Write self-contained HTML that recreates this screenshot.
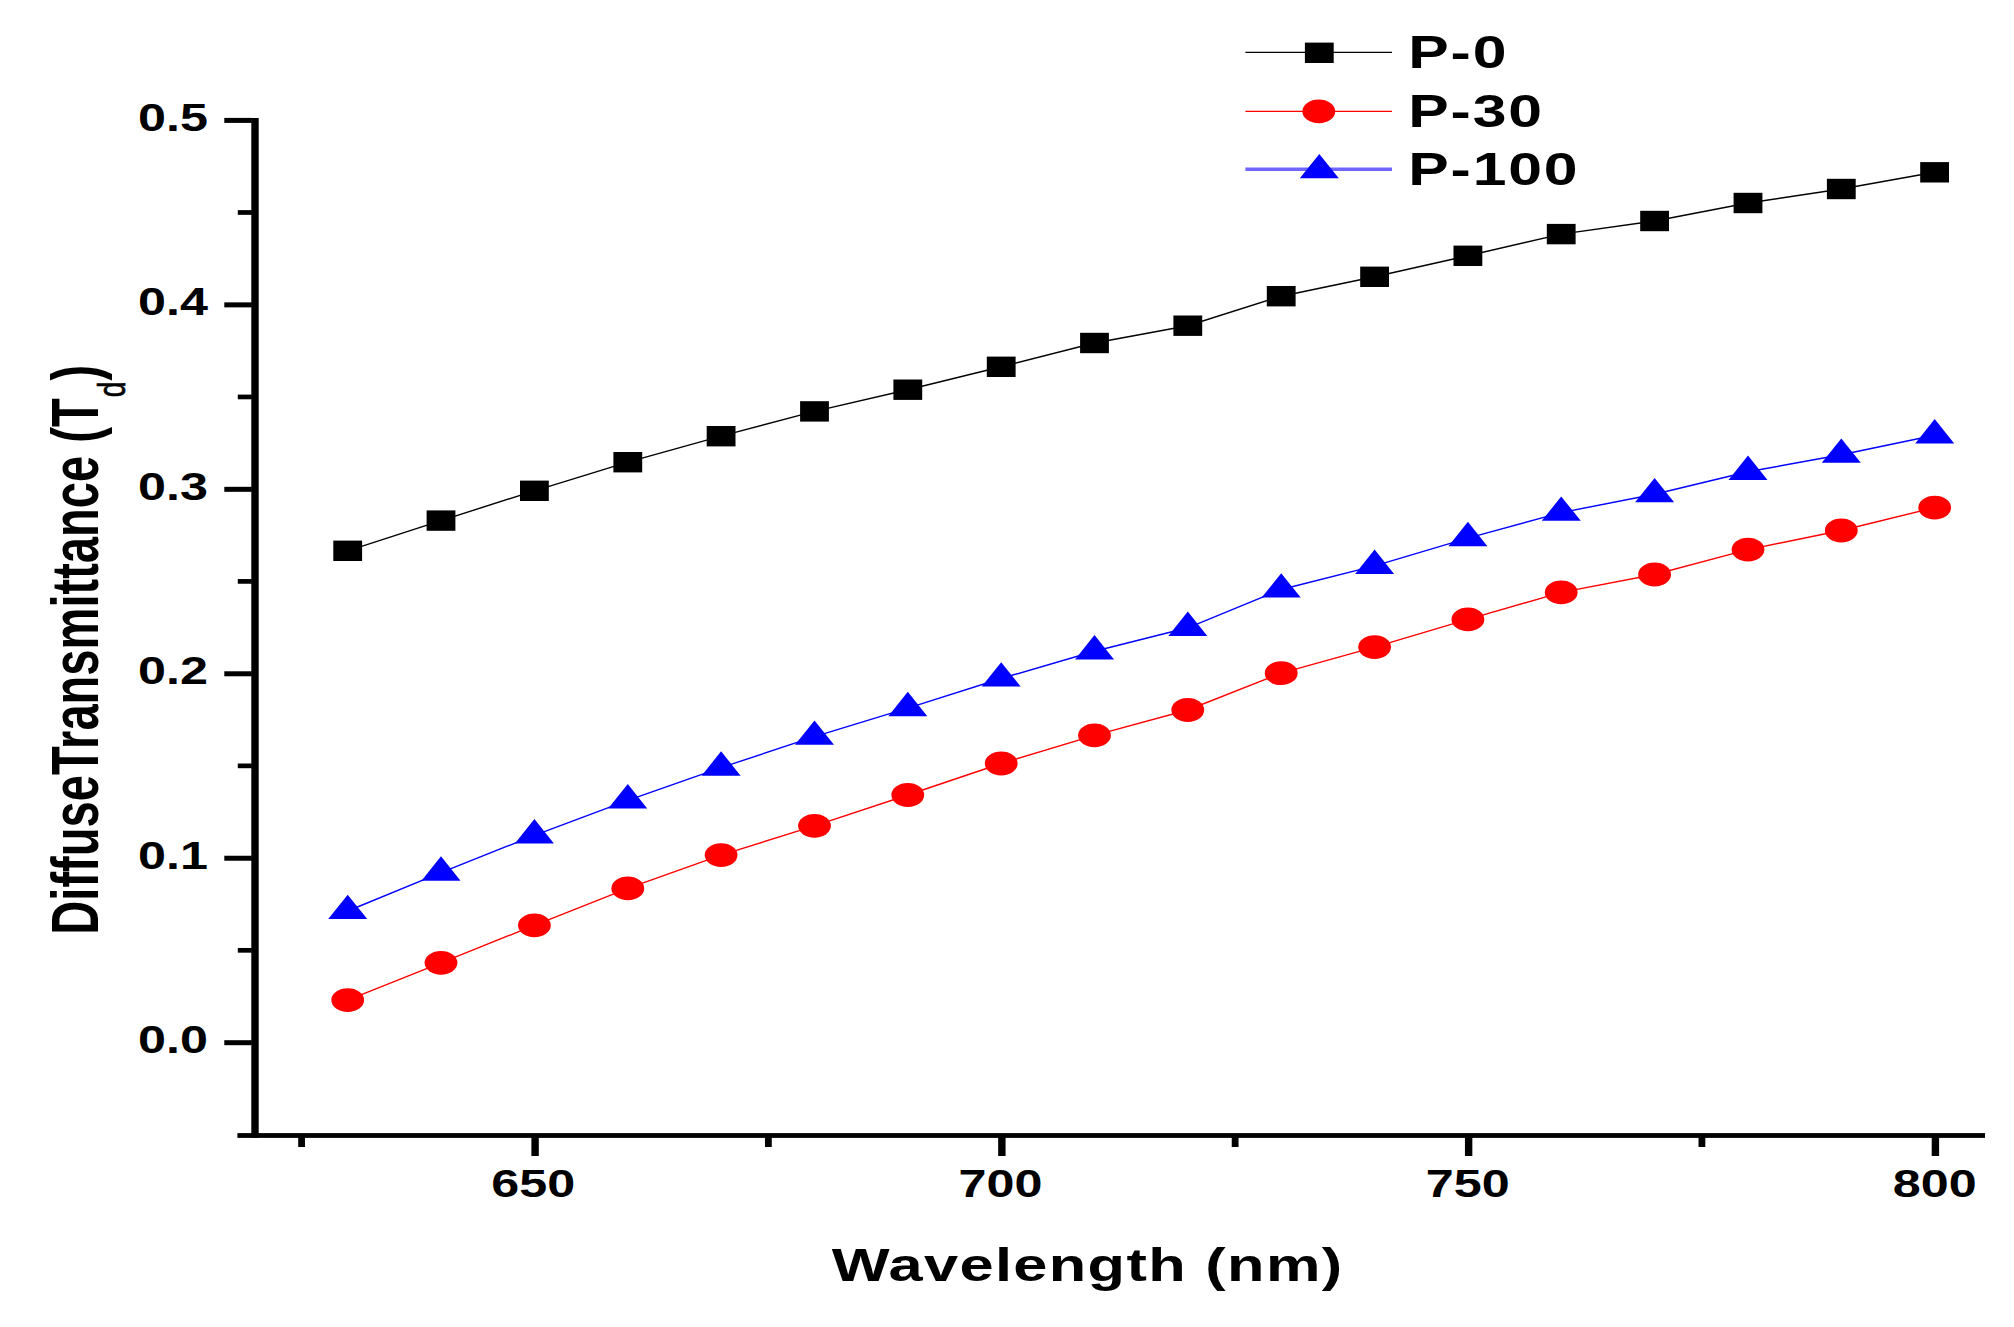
<!DOCTYPE html>
<html lang="en"><head><meta charset="utf-8"><title>Diffuse Transmittance vs Wavelength</title>
<style>html,body{margin:0;padding:0;background:#fff}svg{display:block}text{font-family:"Liberation Sans",sans-serif;font-weight:bold;fill:#000}</style></head><body>
<svg width="2014" height="1327" viewBox="0 0 2014 1327">
<rect width="2014" height="1327" fill="#fff"/>
<g fill="#000">
<rect x="251.3" y="118" width="7.4" height="1019.6"/>
<rect x="237.4" y="1133.1" width="1747.6" height="4.8"/>
<rect x="224.3" y="117.90" width="27.5" height="5.0"/>
<rect x="224.3" y="302.36" width="27.5" height="5.0"/>
<rect x="224.3" y="486.82" width="27.5" height="5.0"/>
<rect x="224.3" y="671.28" width="27.5" height="5.0"/>
<rect x="224.3" y="855.74" width="27.5" height="5.0"/>
<rect x="224.3" y="1040.20" width="27.5" height="5.0"/>
<rect x="237.8" y="210.13" width="14" height="4.7"/>
<rect x="237.8" y="394.59" width="14" height="4.7"/>
<rect x="237.8" y="579.05" width="14" height="4.7"/>
<rect x="237.8" y="763.51" width="14" height="4.7"/>
<rect x="237.8" y="947.97" width="14" height="4.7"/>
<rect x="531.40" y="1136" width="7.4" height="20"/>
<rect x="998.17" y="1136" width="7.4" height="20"/>
<rect x="1464.94" y="1136" width="7.4" height="20"/>
<rect x="1931.71" y="1136" width="7.4" height="20"/>
<rect x="298.20" y="1136" width="6.8" height="11"/>
<rect x="764.97" y="1136" width="6.8" height="11"/>
<rect x="1231.74" y="1136" width="6.8" height="11"/>
<rect x="1698.51" y="1136" width="6.8" height="11"/>
</g>
<text transform="translate(533.30 1197.10) scale(1.3 1)" font-size="38.7" text-anchor="middle">650</text>
<text transform="translate(1000.48 1197.10) scale(1.3 1)" font-size="38.7" text-anchor="middle">700</text>
<text transform="translate(1467.66 1197.10) scale(1.3 1)" font-size="38.7" text-anchor="middle">750</text>
<text transform="translate(1934.84 1197.10) scale(1.3 1)" font-size="38.7" text-anchor="middle">800</text>
<text transform="translate(173.00 130.90) scale(1.3 1)" font-size="38.7" text-anchor="middle">0.5</text>
<text transform="translate(173.00 315.36) scale(1.3 1)" font-size="38.7" text-anchor="middle">0.4</text>
<text transform="translate(173.00 499.82) scale(1.3 1)" font-size="38.7" text-anchor="middle">0.3</text>
<text transform="translate(173.00 684.28) scale(1.3 1)" font-size="38.7" text-anchor="middle">0.2</text>
<text transform="translate(173.00 868.74) scale(1.3 1)" font-size="38.7" text-anchor="middle">0.1</text>
<text transform="translate(173.00 1053.20) scale(1.3 1)" font-size="38.7" text-anchor="middle">0.0</text>
<text transform="translate(1087.60 1281.30) scale(1.305 1)" font-size="47" text-anchor="middle" letter-spacing="1.03">Wavelength (nm)</text>
<text transform="translate(98.2 649.8) rotate(-90) scale(1 1.4)" font-size="47.1" text-anchor="middle">DiffuseTransmittance (T<tspan font-size="28.3" dy="18.9" dx="1" font-weight="normal" stroke="#000" stroke-width="0.5">d</tspan><tspan dy="-18.9" dx="1">)</tspan></text>
<polyline points="347.7,550.8 441.0,520.6 534.4,490.8 627.8,462.2 721.1,436.2 814.5,411.4 907.8,389.7 1001.2,366.8 1094.5,343.0 1187.8,325.7 1281.2,296.2 1374.6,276.8 1467.9,255.8 1561.2,234.1 1654.6,221.0 1748.0,203.0 1841.3,189.0 1934.7,172.3" fill="none" stroke="#000" stroke-width="1.4"/>
<polyline points="347.7,1000.1 441.0,962.8 534.4,925.3 627.8,888.4 721.1,855.1 814.5,825.8 907.8,795.0 1001.2,763.5 1094.5,735.3 1187.8,710.0 1281.2,673.2 1374.6,647.1 1467.9,619.4 1561.2,592.4 1654.6,574.5 1748.0,549.6 1841.3,530.5 1934.7,507.6" fill="none" stroke="#f00" stroke-width="1.4"/>
<polyline points="347.7,911.0 441.0,872.6 534.4,835.4 627.8,800.4 721.1,767.6 814.5,736.7 907.8,708.1 1001.2,678.5 1094.5,651.3 1187.8,627.8 1281.2,589.5 1374.6,565.9 1467.9,538.1 1561.2,512.6 1654.6,494.2 1748.0,471.8 1841.3,454.7 1934.7,435.3" fill="none" stroke="#00f" stroke-width="1.4"/>
<rect x="333.3" y="540.6" width="28.8" height="20.4" fill="#000"/>
<rect x="426.6" y="510.4" width="28.8" height="20.4" fill="#000"/>
<rect x="520.0" y="480.6" width="28.8" height="20.4" fill="#000"/>
<rect x="613.4" y="452.0" width="28.8" height="20.4" fill="#000"/>
<rect x="706.7" y="426.0" width="28.8" height="20.4" fill="#000"/>
<rect x="800.1" y="401.2" width="28.8" height="20.4" fill="#000"/>
<rect x="893.4" y="379.5" width="28.8" height="20.4" fill="#000"/>
<rect x="986.8" y="356.6" width="28.8" height="20.4" fill="#000"/>
<rect x="1080.1" y="332.8" width="28.8" height="20.4" fill="#000"/>
<rect x="1173.4" y="315.5" width="28.8" height="20.4" fill="#000"/>
<rect x="1266.8" y="286.0" width="28.8" height="20.4" fill="#000"/>
<rect x="1360.2" y="266.6" width="28.8" height="20.4" fill="#000"/>
<rect x="1453.5" y="245.6" width="28.8" height="20.4" fill="#000"/>
<rect x="1546.8" y="223.9" width="28.8" height="20.4" fill="#000"/>
<rect x="1640.2" y="210.8" width="28.8" height="20.4" fill="#000"/>
<rect x="1733.6" y="192.8" width="28.8" height="20.4" fill="#000"/>
<rect x="1826.9" y="178.8" width="28.8" height="20.4" fill="#000"/>
<rect x="1920.2" y="162.1" width="28.8" height="20.4" fill="#000"/>
<ellipse cx="347.7" cy="1000.1" rx="16.4" ry="11.9" fill="#f00"/>
<ellipse cx="441.0" cy="962.8" rx="16.4" ry="11.9" fill="#f00"/>
<ellipse cx="534.4" cy="925.3" rx="16.4" ry="11.9" fill="#f00"/>
<ellipse cx="627.8" cy="888.4" rx="16.4" ry="11.9" fill="#f00"/>
<ellipse cx="721.1" cy="855.1" rx="16.4" ry="11.9" fill="#f00"/>
<ellipse cx="814.5" cy="825.8" rx="16.4" ry="11.9" fill="#f00"/>
<ellipse cx="907.8" cy="795.0" rx="16.4" ry="11.9" fill="#f00"/>
<ellipse cx="1001.2" cy="763.5" rx="16.4" ry="11.9" fill="#f00"/>
<ellipse cx="1094.5" cy="735.3" rx="16.4" ry="11.9" fill="#f00"/>
<ellipse cx="1187.8" cy="710.0" rx="16.4" ry="11.9" fill="#f00"/>
<ellipse cx="1281.2" cy="673.2" rx="16.4" ry="11.9" fill="#f00"/>
<ellipse cx="1374.6" cy="647.1" rx="16.4" ry="11.9" fill="#f00"/>
<ellipse cx="1467.9" cy="619.4" rx="16.4" ry="11.9" fill="#f00"/>
<ellipse cx="1561.2" cy="592.4" rx="16.4" ry="11.9" fill="#f00"/>
<ellipse cx="1654.6" cy="574.5" rx="16.4" ry="11.9" fill="#f00"/>
<ellipse cx="1748.0" cy="549.6" rx="16.4" ry="11.9" fill="#f00"/>
<ellipse cx="1841.3" cy="530.5" rx="16.4" ry="11.9" fill="#f00"/>
<ellipse cx="1934.7" cy="507.6" rx="16.4" ry="11.9" fill="#f00"/>
<polygon points="328.2,919.1 367.2,919.1 347.7,894.7" fill="#00f"/>
<polygon points="421.5,880.7 460.5,880.7 441.0,856.3" fill="#00f"/>
<polygon points="514.9,843.5 553.9,843.5 534.4,819.1" fill="#00f"/>
<polygon points="608.2,808.5 647.2,808.5 627.8,784.1" fill="#00f"/>
<polygon points="701.6,775.7 740.6,775.7 721.1,751.3" fill="#00f"/>
<polygon points="795.0,744.8 834.0,744.8 814.5,720.4" fill="#00f"/>
<polygon points="888.3,716.2 927.3,716.2 907.8,691.8" fill="#00f"/>
<polygon points="981.7,686.6 1020.7,686.6 1001.2,662.2" fill="#00f"/>
<polygon points="1075.0,659.4 1114.0,659.4 1094.5,635.0" fill="#00f"/>
<polygon points="1168.3,635.9 1207.3,635.9 1187.8,611.5" fill="#00f"/>
<polygon points="1261.7,597.6 1300.7,597.6 1281.2,573.2" fill="#00f"/>
<polygon points="1355.1,574.0 1394.1,574.0 1374.6,549.6" fill="#00f"/>
<polygon points="1448.4,546.2 1487.4,546.2 1467.9,521.8" fill="#00f"/>
<polygon points="1541.8,520.8 1580.8,520.8 1561.2,496.4" fill="#00f"/>
<polygon points="1635.1,502.3 1674.1,502.3 1654.6,477.9" fill="#00f"/>
<polygon points="1728.5,479.9 1767.5,479.9 1748.0,455.5" fill="#00f"/>
<polygon points="1821.8,462.8 1860.8,462.8 1841.3,438.4" fill="#00f"/>
<polygon points="1915.2,443.4 1954.2,443.4 1934.7,419.0" fill="#00f"/>
<line x1="1245.4" y1="52.4" x2="1392" y2="52.4" stroke="#000" stroke-width="1.4"/>
<line x1="1245.4" y1="111.4" x2="1392" y2="111.4" stroke="#f00" stroke-width="1.4"/>
<line x1="1245.4" y1="169.3" x2="1392" y2="169.3" stroke="#6e66ff" stroke-width="3.4"/>
<rect x="1304.9" y="42.6" width="28.8" height="20.4" fill="#000"/>
<ellipse cx="1318.8" cy="111.4" rx="16.4" ry="11.9" fill="#f00"/>
<polygon points="1299.8,178.3 1338.8,178.3 1319.3,153.9" fill="#00f"/>
<text transform="translate(1408.30 68.10) scale(1.334 1)" font-size="45.5" text-anchor="start" letter-spacing="1.37">P-0</text>
<text transform="translate(1408.30 126.80) scale(1.334 1)" font-size="45.5" text-anchor="start" letter-spacing="1.37">P-30</text>
<text transform="translate(1408.30 185.20) scale(1.334 1)" font-size="45.5" text-anchor="start" letter-spacing="1.37">P-100</text>
</svg></body></html>
